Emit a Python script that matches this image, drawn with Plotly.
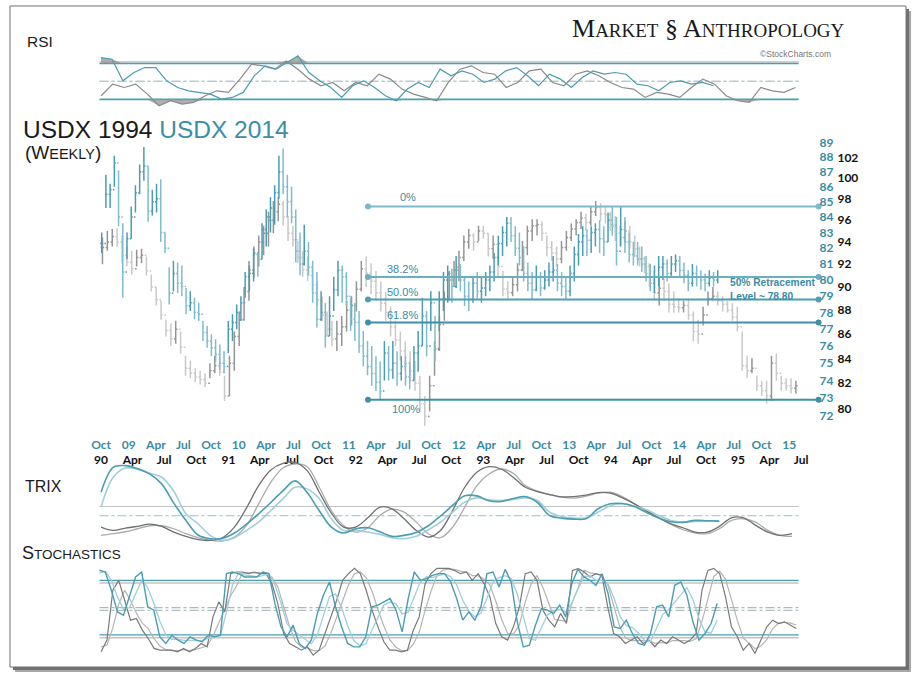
import numpy as np
import pandas as pd
import plotly.graph_objects as go

W, H = 916, 676

# ---------------- data: weekly-ish bars (2-week sampling) ----------------
grey_bar_start = "1990-01-05"
teal_bar_start = "2008-10-03"
bar_step = "14D"

grey_high = [94.4,95.0,95.2,95.3,94.6,93.6,93.2,93.3,93.4,92.7,
             91.1,90.0,88.8,87.2,86.9,87.1,86.2,84.2,83.8,83.2,
             83.0,82.8,83.6,84.2,84.0,82.6,84.2,86.2,87.9,90.0,
             92.3,93.6,94.6,95.5,96.8,97.8,98.2,97.8,96.4,95.5,
             94.1,93.2,92.7,91.8,90.5,89.2,87.9,87.1,87.1,87.5,
             88.8,89.2,90.5,92.3,92.7,92.1,91.4,90.5,89.6,88.3,
             87.1,86.2,85.4,84.6,83.8,82.6,81.0,82.6,85.4,87.5,
             89.6,91.4,92.3,93.2,94.6,95.2,94.8,95.5,95.5,94.8,
             94.6,93.6,91.4,90.5,90.9,92.1,94.1,95.5,96.1,96.1,
             95.9,94.6,94.1,93.6,94.1,95.0,95.7,96.1,96.8,96.6,
             97.3,97.8,97.6,97.3,96.8,96.4,95.5,95.9,95.5,94.6,
             93.6,92.7,92.1,91.4,90.9,90.7,90.3,89.6,89.0,88.8,
             89.0,87.9,87.2,88.3,89.6,90.0,89.6,89.2,88.8,88.6,
             88.3,86.2,84.2,84.0,82.6,82.2,82.2,84.2,84.4,82.6,
             82.4,82.4,82.2]
grey_low = [92.0,93.2,93.6,93.6,92.1,91.8,91.1,91.8,92.1,91.0,
            89.6,88.4,87.2,85.8,85.0,85.2,84.4,82.6,82.4,82.1,
            81.9,81.7,82.4,82.8,82.6,80.6,81.0,83.0,85.0,87.1,
            88.8,90.8,91.8,92.8,93.6,94.8,95.9,95.5,94.1,93.6,
            92.1,90.9,90.5,89.6,88.4,87.1,85.8,85.0,84.6,85.0,
            86.2,86.7,87.9,89.6,90.0,89.4,88.8,87.9,87.1,85.8,
            85.0,83.8,83.0,82.2,81.4,79.8,78.6,79.8,82.6,84.6,
            87.1,88.8,90.0,90.5,92.3,93.4,93.2,94.1,94.3,92.7,
            92.5,90.9,89.2,89.0,89.2,89.6,91.4,92.8,94.1,94.6,
            94.1,92.7,92.3,91.8,92.1,93.2,94.1,94.6,95.2,95.0,
            95.5,96.4,95.9,95.7,95.0,94.1,93.6,93.9,93.4,92.7,
            91.8,91.2,90.0,88.8,88.4,88.8,87.8,87.8,87.8,87.8,
            87.2,85.4,85.2,86.7,88.4,88.8,88.4,87.9,87.8,87.1,
            86.2,83.0,82.4,82.8,81.4,81.0,80.4,80.6,82.2,81.4,
            81.4,81.2,81.2]
grey_close = [93.5,94.0,94.5,94.0,92.8,92.2,91.6,92.6,92.8,91.4,
              90.0,88.9,87.6,86.3,85.6,86.4,84.9,83.2,82.8,82.5,
              82.3,82.0,83.0,83.4,82.9,81.0,83.6,85.8,87.2,89.6,
              91.5,93.0,94.0,94.8,96.0,96.8,97.5,96.3,94.8,94.2,
              92.6,91.5,91.0,90.2,88.9,87.6,86.4,85.6,86.0,86.6,
              88.0,88.4,89.8,91.6,91.2,90.5,89.5,88.6,87.8,86.6,
              85.5,84.6,83.6,83.0,82.0,80.4,79.4,81.8,84.8,86.8,
              89.0,90.6,91.5,92.6,94.0,94.6,94.0,95.0,94.8,93.4,
              93.8,91.8,89.8,89.5,90.2,91.5,93.5,95.0,95.5,95.6,
              94.8,93.5,93.0,92.5,93.5,94.4,95.2,95.8,96.2,95.8,
              96.8,97.2,96.6,96.5,95.6,94.8,94.4,95.0,94.0,93.4,
              92.5,91.8,90.6,89.5,89.9,89.6,88.5,88.3,88.2,88.4,
              87.6,86.2,86.0,87.6,89.0,89.2,88.8,88.5,88.0,87.4,
              86.6,83.4,83.0,83.2,81.8,81.4,81.0,83.6,82.8,82.0,
              81.8,81.6,81.8]

teal_high = [83.0,86.8,86.2,88.1,87.1,83.6,83.0,84.7,86.1,87.5,
             88.7,87.4,85.8,86.2,86.5,83.0,80.8,81.2,81.1,80.9,
             79.5,79.3,78.9,78.6,77.5,77.2,76.7,76.4,76.1,75.7,
             77.5,77.9,78.5,79.0,80.5,80.9,82.0,81.7,83.6,84.5,
             85.3,86.1,88.1,88.6,86.8,86.0,84.5,83.0,83.5,82.4,
             81.2,80.5,79.3,78.6,79.0,80.2,81.2,80.9,80.5,78.9,
             78.6,78.1,76.9,76.3,76.0,75.4,75.1,76.3,76.0,76.3,
             75.7,75.4,75.4,75.1,76.0,76.9,78.9,78.1,79.3,77.8,
             79.3,80.5,80.9,80.7,81.5,81.0,80.2,79.9,80.2,80.5,
             80.2,80.5,80.9,81.7,82.8,83.4,84.0,84.0,83.4,83.0,
             82.1,81.1,80.5,80.9,80.5,80.6,81.1,81.5,81.0,80.5,
             80.2,80.9,82.1,82.9,83.4,83.2,83.4,83.6,83.8,83.4,
             84.3,84.7,84.0,84.7,84.0,83.0,82.4,82.4,82.1,81.5,
             81.0,80.9,81.5,81.5,81.3,81.5,81.6,81.5,81.1,80.6,
             81.0,80.9,80.6,80.4,80.6,80.5,80.6]
teal_low = [81.7,84.6,84.6,86.0,83.4,78.9,81.3,82.6,84.3,85.5,
            86.4,83.7,84.1,84.3,82.4,81.7,78.5,79.3,79.2,79.0,
            77.9,78.1,77.6,77.5,76.3,75.9,75.4,75.1,74.6,74.4,
            75.6,76.3,77.0,77.5,78.9,79.3,79.9,80.2,81.3,82.1,
            83.0,83.5,85.2,85.5,84.0,83.6,81.1,80.3,80.9,80.3,
            78.6,77.1,77.5,75.9,76.6,78.1,79.0,78.6,78.4,76.9,
            76.3,75.6,74.8,74.3,73.7,73.4,72.9,74.0,74.0,74.1,
            73.7,74.0,73.7,73.5,74.0,74.5,76.0,75.4,76.9,75.1,
            76.9,78.1,78.6,78.6,79.5,79.3,78.4,78.1,78.6,78.8,
            78.6,79.0,79.3,79.9,80.9,81.5,82.1,82.4,81.5,80.9,
            79.9,79.3,78.8,79.3,79.0,79.4,79.6,79.9,79.3,79.0,
            78.8,79.0,79.9,80.9,81.5,81.5,81.7,82.1,81.7,81.5,
            82.4,82.8,80.9,82.1,81.7,81.1,80.9,80.9,80.5,79.9,
            79.3,79.2,79.6,80.0,79.9,80.2,80.5,80.2,79.8,79.3,
            79.6,79.6,79.4,79.3,79.6,79.6,79.8]
teal_close = [82.3,85.5,85.8,87.6,84.0,80.5,82.6,84.0,85.6,87.0,
              87.4,84.4,85.0,85.2,83.0,82.0,79.2,80.4,79.8,79.6,
              78.4,78.6,78.0,77.9,76.8,76.3,75.9,75.5,75.0,74.8,
              77.0,77.4,78.0,78.6,80.2,80.4,81.6,81.3,83.2,84.0,
              84.6,85.6,87.0,86.0,85.0,84.0,81.8,81.0,81.8,80.8,
              79.2,77.6,78.0,76.6,77.8,79.4,80.6,80.2,79.0,77.6,
              77.4,76.0,75.4,74.8,74.4,73.9,73.4,75.6,74.6,75.0,
              74.4,74.8,74.2,74.0,75.6,76.0,77.8,76.0,78.6,75.8,
              78.8,80.0,80.4,79.6,80.8,80.0,79.0,78.8,79.8,79.3,
              79.5,80.0,80.5,81.4,82.3,83.0,83.6,82.8,82.0,81.4,
              80.4,79.8,79.4,80.2,79.5,80.0,80.5,80.6,79.8,79.6,
              79.3,80.4,81.6,82.4,82.8,82.5,83.0,83.2,82.6,82.4,
              83.8,83.4,81.8,83.2,82.4,81.6,81.5,81.3,81.0,80.4,
              79.8,80.2,80.8,81.0,80.4,81.0,81.2,80.6,80.3,79.8,
              80.4,80.2,80.0,79.8,80.1,80.0,80.2]

# ---------------- data: indicators ----------------
grey_rsi = [34.1,47.0,43.3,47.0,35.9,23.0,28.5,24.8,26.7,34.1,
            39.6,37.8,52.6,69.2,67.4,63.7,72.9,63.7,52.6,45.2,
            48.9,39.6,48.9,45.2,58.1,52.6,41.5,35.9,32.2,28.5,
            48.9,63.7,67.4,60.0,58.1,43.3,48.9,61.8,63.7,48.9,
            45.2,58.1,61.8,56.3,48.9,43.3,41.5,32.2,37.8,35.9,
            32.2,43.3,52.6,47.0,34.1,28.5,26.7,43.3,39.6,37.8,43.3]
teal_rsi = [76.6,74.8,50.7,60.0,65.5,65.5,50.7,43.3,39.6,37.8,
            35.9,30.4,32.2,37.8,56.3,67.4,63.7,71.1,78.5,60.0,
            50.7,43.3,32.2,45.2,50.7,43.3,34.1,28.5,41.5,48.9,
            43.3,63.7,56.3,61.8,58.1,48.9,52.6,61.8,65.5,56.3,
            45.2,58.1,52.6,43.3,54.4,61.8,58.1,60.0,58.1,47.0,
            45.2,39.6,48.9,50.7,47.0,48.9,45.2]

grey_trix = [-0.62,-0.72,-0.65,-0.60,-0.53,-0.60,-0.77,-0.90,-1.00,-1.02,
             -0.94,-0.62,-0.04,0.63,1.10,1.30,1.33,1.08,0.43,-0.20,
             -0.62,-0.62,-0.34,-0.02,-0.07,-0.37,-0.72,-0.92,-0.72,-0.12,
             0.58,1.03,1.20,1.13,0.88,0.58,0.45,0.36,0.29,0.30,
             0.34,0.42,0.40,0.26,0.08,-0.14,-0.34,-0.52,-0.64,-0.77,
             -0.77,-0.60,-0.34,-0.34,-0.57,-0.77,-0.87,-0.82]
grey_trix_signal = [-0.87,-0.82,-0.76,-0.67,-0.58,-0.58,-0.67,-0.82,-0.94,-1.02,
                    -1.04,-0.92,-0.57,0.08,0.73,1.16,1.28,1.20,0.58,-0.12,
                    -0.57,-0.77,-0.64,-0.27,-0.08,-0.17,-0.47,-0.82,-0.94,-0.62,
                    -0.02,0.63,0.98,1.13,1.00,0.63,0.46,0.36,0.28,0.25,
                    0.31,0.40,0.43,0.30,0.08,-0.12,-0.34,-0.54,-0.70,-0.80,
                    -0.82,-0.67,-0.42,-0.37,-0.47,-0.72,-0.87,-0.90]
teal_trix = [0.71,1.46,1.51,1.42,1.26,0.96,0.38,-0.14,-0.58,-0.69,
             -0.68,-0.52,-0.25,0.06,0.40,0.75,1.05,0.70,0.15,-0.34,
             -0.52,-0.39,-0.36,-0.48,-0.62,-0.59,-0.50,-0.30,-0.01,0.31,
             0.60,0.60,0.45,0.43,0.52,0.58,0.40,0.01,-0.07,-0.10,
             -0.09,0.21,0.36,0.37,0.28,0.10,-0.07,-0.18,-0.20,-0.14,
             -0.15,-0.16]
teal_trix_signal = [0.26,1.16,1.44,1.41,1.28,1.16,0.74,0.06,-0.24,-0.59,
                    -0.74,-0.66,-0.44,-0.19,0.16,0.51,0.86,0.81,0.51,-0.09,
                    -0.44,-0.44,-0.49,-0.56,-0.66,-0.69,-0.62,-0.42,-0.19,0.11,
                    0.41,0.54,0.48,0.46,0.49,0.54,0.46,0.11,-0.02,-0.07,
                    -0.06,0.11,0.30,0.36,0.28,0.18,0.01,-0.14,-0.19,-0.17,
                    -0.16,-0.16]

grey_stoch_k = [4.7,17.5,72.0,82.9,61.1,39.3,41.1,28.4,19.3,8.4,
                6.5,6.5,6.5,4.7,8.4,4.7,8.4,13.8,10.2,42.9,
                59.3,48.4,90.2,92.0,92.0,90.2,92.0,90.2,90.2,79.3,
                57.5,24.7,13.8,10.2,6.5,10.2,1.1,6.5,24.7,42.9,
                61.1,82.9,90.2,96.0,90.2,72.0,50.2,32.0,15.6,6.5,
                6.5,4.7,6.5,28.4,42.9,79.3,90.2,96.0,95.6,96.0,
                93.8,90.2,92.0,82.9,90.2,79.3,64.7,35.6,21.1,17.5,
                32.0,53.8,90.2,92.0,82.9,50.2,39.3,32.0,46.5,35.6,
                93.8,95.6,92.0,86.5,90.2,88.4,53.8,24.7,21.1,13.8,
                17.5,21.1,13.8,17.5,10.2,17.5,13.8,21.1,17.5,13.8,
                17.5,24.7,72.0,93.8,96.0,90.2,64.7,32.0,21.1,6.5,
                13.8,2.9,17.5,32.0,39.3,35.6,37.5,33.8,30.2]
grey_stoch_d = [10,12,31,57,72,61,47,36,30,19,
                11,7,6,6,7,6,7,9,11,22,
                37,50,66,77,91,91,91,91,91,86,
                76,54,32,16,10,9,6,6,11,25,
                43,62,78,90,92,86,71,51,33,18,
                10,6,6,13,26,50,71,88,94,95,
                95,93,92,88,88,84,78,60,40,25,
                24,34,59,79,88,75,57,40,39,38,
                59,75,94,91,90,88,78,56,33,20,
                17,17,17,17,14,15,14,17,17,17,
                16,19,38,64,87,93,84,62,39,20,
                14,8,11,18,30,36,37,36,34]
teal_stoch_k = [91.0,89.1,69.0,45.2,41.6,61.7,83.7,89.1,50.7,47.1,
                17.8,10.5,19.6,14.1,10.5,17.8,14.1,12.3,19.6,17.8,
                19.6,87.3,89.1,87.3,83.7,83.7,83.7,89.1,87.3,54.4,
                28.8,17.8,30.6,10.5,5.0,14.1,43.4,63.5,78.2,50.7,
                28.8,10.5,6.8,6.8,17.8,50.7,52.6,56.2,59.9,47.1,
                23.3,59.9,89.1,80.0,81.8,85.5,87.3,87.3,78.2,59.9,
                36.1,45.2,36.1,50.7,87.3,89.1,72.7,92.0,78.2,34.3,
                6.8,8.7,30.6,48.9,47.1,43.4,52.6,39.8,76.3,92.0,
                83.7,80.0,74.5,87.3,65.4,28.8,26.9,36.1,21.5,10.5,
                8.7,21.5,50.7,52.6,39.8,74.5,78.2,63.5,34.3,14.1,
                21.5,32.4,54.4]
teal_stoch_d = [88,90,80,62,48,50,65,80,72,55,
                35,20,15,15,14,14,14,14,16,18,
                19,45,75,88,86,85,84,85,87,75,
                55,32,25,20,15,10,20,40,62,65,
                50,30,14,8,10,25,40,53,56,54,
                43,45,62,78,84,83,85,87,84,75,
                58,46,40,44,60,78,83,85,82,65,
                40,16,14,28,42,46,48,45,55,70,
                84,85,80,80,76,60,40,30,28,22,
                14,13,27,42,48,56,64,72,59,38,
                23,22,36]

# time spans covered by each indicator series (start, end)
grey_rsi_span = ("1990-01-01", "1995-06-15")
teal_rsi_span = ("2008-10-01", "2014-04-25")
grey_trix_span = ("1990-01-01", "1995-06-05")
teal_trix_span = ("2008-10-01", "2014-05-14")
grey_stoch_span = ("1990-01-01", "1995-06-17")
teal_stoch_span = ("2008-09-25", "2014-05-07")

fib_ratios = [0.0, 0.382, 0.5, 0.618, 1.0]
fib_labels = ["0%", "38.2%", "50.0%", "61.8%", "100%"]

# ---------------- layout helpers ----------------
def pxx(p):
    return p / W

def pxy(p):
    return 1 - p / H

G_ANCH = (("1990-01-01", 96.6), ("1995-07-01", 800.5))
T_ANCH = (("2008-10-01", 96.6), ("2015-01-01", 788.5))

def px_to_date(p, anch):
    (d0, p0), (d1, p1) = anch
    t0, t1 = pd.Timestamp(d0), pd.Timestamp(d1)
    return t0 + (t1 - t0) * ((p - p0) / (p1 - p0))

def log_range(v_lo, y_lo, v_hi, y_hi, top, bottom):
    a = (np.log10(v_hi) - np.log10(v_lo)) / (y_lo - y_hi)
    return [np.log10(v_lo) - (bottom - y_lo) * a, np.log10(v_lo) + (y_lo - top) * a]

def lin_range(v_lo, y_lo, v_hi, y_hi, top, bottom):
    a = (v_hi - v_lo) / (y_lo - y_hi)
    return [v_lo - (bottom - y_lo) * a, v_lo + (y_lo - top) * a]

X_L, X_R = 92, 822
xdom = [pxx(X_L), pxx(X_R)]
MAIN = (135, 425)
RSI = (46, 106)
TRIX = (456, 545)
STO = (566, 658)

def dom(pan):
    return [pxy(pan[1]), pxy(pan[0])]

TEAL = "#4a9db3"
TEAL_L = "#9fcfdb"
TEAL_TXT = "#3a8ca3"
GREY = "#8a8a8a"

fig = go.Figure()

# ---------------- frame (drawn first so it stays underneath) ----------------
fig.add_shape(type="rect", xref="paper", yref="paper", x0=pxx(10), x1=pxx(911), y0=pxy(672), y1=pxy(9),
              fillcolor="#a8a8a8", line=dict(width=0), layer="below")
fig.add_shape(type="rect", xref="paper", yref="paper", x0=pxx(8), x1=pxx(909), y0=pxy(670), y1=pxy(7),
              fillcolor="#707070", line=dict(width=0), layer="below")
fig.add_shape(type="rect", xref="paper", yref="paper", x0=pxx(5), x1=pxx(906), y0=pxy(667), y1=pxy(4),
              fillcolor="white", line=dict(color="#707070", width=1), layer="below")

# ---------------- main price bars ----------------
g_dates = pd.date_range(grey_bar_start, periods=len(grey_close), freq=bar_step)
t_dates = pd.date_range(teal_bar_start, periods=len(teal_close), freq=bar_step)
g_open = [grey_close[0]] + grey_close[:-1]
t_open = [teal_close[0]] + teal_close[:-1]

fig.add_trace(go.Ohlc(x=g_dates, open=g_open, high=grey_high, low=grey_low, close=grey_close,
                      xaxis="x", yaxis="y", tickwidth=0.35,
                      increasing=dict(line=dict(color="#959595", width=1.5)),
                      decreasing=dict(line=dict(color="#c9c9c9", width=1.5)),
                      showlegend=False, name="USDX 1994"))
fig.add_trace(go.Ohlc(x=t_dates, open=t_open, high=teal_high, low=teal_low, close=teal_close,
                      xaxis="x2", yaxis="y2", tickwidth=0.35,
                      increasing=dict(line=dict(color="#4b9cb2", width=1.5)),
                      decreasing=dict(line=dict(color="#7fbccc", width=1.5)),
                      showlegend=False, name="USDX 2014"))

# Fibonacci retracement from the 2011 low to the 2013 high of the teal series
low_idx = int(np.argmin(teal_low))
fib_low = teal_low[low_idx]
fib_high = max(teal_high[low_idx:])
fib_levels = [fib_high - r * (fib_high - fib_low) for r in fib_ratios]
fib_x = [px_to_date(365, T_ANCH), px_to_date(818, T_ANCH)]
fib_colors = ["#7db9ca", "#6aaec0", "#4f9db2", "#3f90a6", "#3f90a6"]
for lvl, col in zip(fib_levels, fib_colors):
    fig.add_trace(go.Scatter(x=fib_x, y=[lvl, lvl], xaxis="x2", yaxis="y2", mode="lines+markers",
                             line=dict(color=col, width=2), marker=dict(size=6, color=col),
                             showlegend=False, hoverinfo="skip"))
lab_px = [405, 400, 400, 400, 403]
lab_shift = [9, 8, 7, 7, -9]
for lvl, txt, lp, sh in zip(fib_levels, fib_labels, lab_px, lab_shift):
    fig.add_annotation(x=px_to_date(lp, T_ANCH), y=np.log10(lvl), xref="x2", yref="y2", text=txt,
                       showarrow=False, yshift=sh, font=dict(family="Liberation Sans", size=11, color=TEAL_TXT))

# ---------------- RSI ----------------
gr_x = pd.date_range(*grey_rsi_span, periods=len(grey_rsi))
tr_x = pd.date_range(*teal_rsi_span, periods=len(teal_rsi))
for xs, vals, xa in [(gr_x, grey_rsi, "x"), (tr_x, teal_rsi, "x2")]:
    v = np.array(vals)
    for base, clipped in [(30, np.minimum(v, 30)), (70, np.maximum(v, 70))]:
        fig.add_trace(go.Scatter(x=xs, y=[base] * len(v), xaxis=xa, yaxis="y3", mode="lines",
                                 line=dict(width=0), showlegend=False, hoverinfo="skip"))
        fig.add_trace(go.Scatter(x=xs, y=clipped, xaxis=xa, yaxis="y3", mode="lines",
                                 line=dict(width=0), fill="tonexty", fillcolor="rgba(150,150,150,0.75)",
                                 showlegend=False, hoverinfo="skip"))
fig.add_trace(go.Scatter(x=gr_x, y=grey_rsi, xaxis="x", yaxis="y3", mode="lines",
                         line=dict(color=GREY, width=1.2), showlegend=False))
fig.add_trace(go.Scatter(x=tr_x, y=teal_rsi, xaxis="x2", yaxis="y3", mode="lines",
                         line=dict(color=TEAL, width=1.2), showlegend=False))

# ---------------- TRIX ----------------
gt_x = pd.date_range(*grey_trix_span, periods=len(grey_trix))
tt_x = pd.date_range(*teal_trix_span, periods=len(teal_trix))
fig.add_trace(go.Scatter(x=gt_x, y=grey_trix_signal, xaxis="x", yaxis="y4", mode="lines",
                         line=dict(color="#ababab", width=1.3, shape="spline"), showlegend=False))
fig.add_trace(go.Scatter(x=gt_x, y=grey_trix, xaxis="x", yaxis="y4", mode="lines",
                         line=dict(color="#707070", width=1.3, shape="spline"), showlegend=False))
fig.add_trace(go.Scatter(x=tt_x, y=teal_trix_signal, xaxis="x2", yaxis="y5", mode="lines",
                         line=dict(color=TEAL_L, width=1.6, shape="spline"), showlegend=False))
fig.add_trace(go.Scatter(x=tt_x, y=teal_trix, xaxis="x2", yaxis="y5", mode="lines",
                         line=dict(color=TEAL, width=1.6, shape="spline"), showlegend=False))

# ---------------- Stochastics ----------------
gs_x = pd.date_range(*grey_stoch_span, periods=len(grey_stoch_k))
ts_x = pd.date_range(*teal_stoch_span, periods=len(teal_stoch_k))
fig.add_trace(go.Scatter(x=gs_x, y=grey_stoch_d, xaxis="x", yaxis="y6", mode="lines",
                         line=dict(color="#b5b5b5", width=1.2), showlegend=False))
fig.add_trace(go.Scatter(x=gs_x, y=grey_stoch_k, xaxis="x", yaxis="y6", mode="lines",
                         line=dict(color="#7a7a7a", width=1.2), showlegend=False))
fig.add_trace(go.Scatter(x=ts_x, y=teal_stoch_d, xaxis="x2", yaxis="y7", mode="lines",
                         line=dict(color=TEAL_L, width=1.3), showlegend=False))
fig.add_trace(go.Scatter(x=ts_x, y=teal_stoch_k, xaxis="x2", yaxis="y7", mode="lines",
                         line=dict(color=TEAL, width=1.4), showlegend=False))

# ---------------- reference levels in indicator panels ----------------
lx0, lx1 = pxx(95), pxx(798)
def hline(yref, val, color, dash="solid", width=1.2):
    fig.add_shape(type="line", xref="paper", x0=lx0, x1=lx1, yref=yref, y0=val, y1=val,
                  line=dict(color=color, width=width, dash=dash), layer="below")

hline("y3", 71.8, "#bdbdbd"); hline("y3", 70, TEAL, width=1.4); hline("y3", 30, TEAL, width=1.6)
hline("y3", 50, "#bdbdbd", "dashdot"); hline("y3", 50, "#a8d0da", "dashdot")
hline("y4", 0, "#c4c4c4"); hline("y5", 0, "#8fc3d1", "dashdot")
hline("y6", 80, "#c4c4c4", width=1.6); hline("y6", 20, "#c4c4c4", width=1.6); hline("y6", 50, "#bdbdbd", "dashdot")
hline("y7", 80, TEAL, width=1.3); hline("y7", 20, TEAL, width=1.3); hline("y7", 50, "#8fc3d1", "dashdot")

# ---------------- axes ----------------
g_ticks = pd.date_range("1990-01-01", "1995-07-01", freq="QS")
t_ticks = pd.date_range("2008-10-01", "2015-01-01", freq="QS")
def tick_text(ts):
    return [f"{d.year % 100:02d}" if d.month == 1 else d.strftime("%b") for d in ts]

tickfont_black = dict(family="Lato", size=12, color="#111111", weight="bold")
tickfont_teal = dict(family="Lato", size=12, color=TEAL_TXT, weight="bold")

layout_axes = dict(
    xaxis=dict(type="date", domain=xdom, range=[px_to_date(X_L, G_ANCH), px_to_date(X_R, G_ANCH)],
               anchor="free", position=pxy(450), tickvals=g_ticks, ticktext=tick_text(g_ticks),
               tickfont=tickfont_black, ticks="", showgrid=False, zeroline=False, showline=False,
               rangeslider=dict(visible=False)),
    xaxis2=dict(type="date", domain=xdom, overlaying="x",
                range=[px_to_date(X_L, T_ANCH), px_to_date(X_R, T_ANCH)],
                anchor="free", position=pxy(435.5), tickvals=t_ticks, ticktext=tick_text(t_ticks),
                tickfont=tickfont_teal, ticks="", showgrid=False, zeroline=False, showline=False,
                rangeslider=dict(visible=False), side="bottom"),
    yaxis=dict(type="log", domain=dom(MAIN), range=log_range(80, 408, 102, 156, MAIN[0], MAIN[1]),
               anchor="free", position=pxx(836), side="right", tickvals=list(range(80, 103, 2)),
               ticktext=[str(v) for v in range(80, 103, 2)], tickfont=tickfont_black, ticks="",
               showgrid=False, zeroline=False, showline=False),
    yaxis2=dict(type="log", domain=dom(MAIN), overlaying="y",
                range=log_range(72, 415, 89, 141, MAIN[0], MAIN[1]),
                anchor="free", position=pxx(818), side="right", tickvals=list(range(72, 90)),
                ticktext=[str(v) for v in range(72, 90)], tickfont=tickfont_teal, ticks="",
                showgrid=False, zeroline=False, showline=False),
)
hidden = dict(showticklabels=False, showgrid=False, zeroline=False, showline=False, ticks="")
layout_axes["yaxis3"] = dict(domain=dom(RSI), anchor="x", range=lin_range(30, 97.7, 70, 61.7, RSI[0], RSI[1]), **hidden)
layout_axes["yaxis4"] = dict(domain=dom(TRIX), anchor="x", range=lin_range(0, 506, 1, 472.7, TRIX[0], TRIX[1]), **hidden)
layout_axes["yaxis5"] = dict(domain=dom(TRIX), anchor="x", overlaying="y4",
                             range=lin_range(0, 515.3, 1, 482.0, TRIX[0], TRIX[1]), **hidden)
layout_axes["yaxis6"] = dict(domain=dom(STO), anchor="x", range=lin_range(20, 637.7, 80, 582.7, STO[0], STO[1]), **hidden)
layout_axes["yaxis7"] = dict(domain=dom(STO), anchor="x", overlaying="y6",
                             range=lin_range(20, 634.7, 80, 580.0, STO[0], STO[1]), **hidden)

fig.update_layout(width=W, height=H, margin=dict(l=0, r=0, t=0, b=0),
                  paper_bgcolor="white", plot_bgcolor="rgba(0,0,0,0)", showlegend=False,
                  **layout_axes)

# ---------------- texts ----------------
def note(x, y, text, size, color="#1a1a1a", anchor="left", family="Liberation Sans", weight="normal"):
    fig.add_annotation(xref="paper", yref="paper", x=pxx(x), y=pxy(y), text=text, showarrow=False,
                       xanchor=anchor, yanchor="middle",
                       font=dict(family=family, size=size, color=color, weight=weight))

note(20, 40, "RSI", 15.5)
note(16, 128, "USDX 1994 <span style='color:#3b8ea6'>USDX 2014</span>", 24.5)
note(18, 151, "(W<span style='font-size:14.5px'>EEKLY</span>)", 19)
note(18, 486, "TRIX", 16)
note(15, 553, "S<span style='font-size:13.5px'>TOCHASTICS</span>", 18)
note(707, 27, "M<span style='font-size:19px'>ARKET</span> § A<span style='font-size:19px'>NTHROPOLOGY</span>",
     26, color="#1a1a1a", anchor="center", family="Liberation Serif")
note(795, 52, "©StockCharts.com", 8.5, color="#777777", anchor="center")
fib50 = fib_levels[2]
note(727, 281, "50% Retracement", 10.2, color=TEAL_TXT, weight="bold")
note(727, 295, f"Level ~ {fib50:.2f}", 10.2, color=TEAL_TXT, weight="bold")

fig.write_html("out.html", config={"displayModeBar": False},
               post_script="document.body.style.margin='0';document.documentElement.style.overflow='hidden';")
